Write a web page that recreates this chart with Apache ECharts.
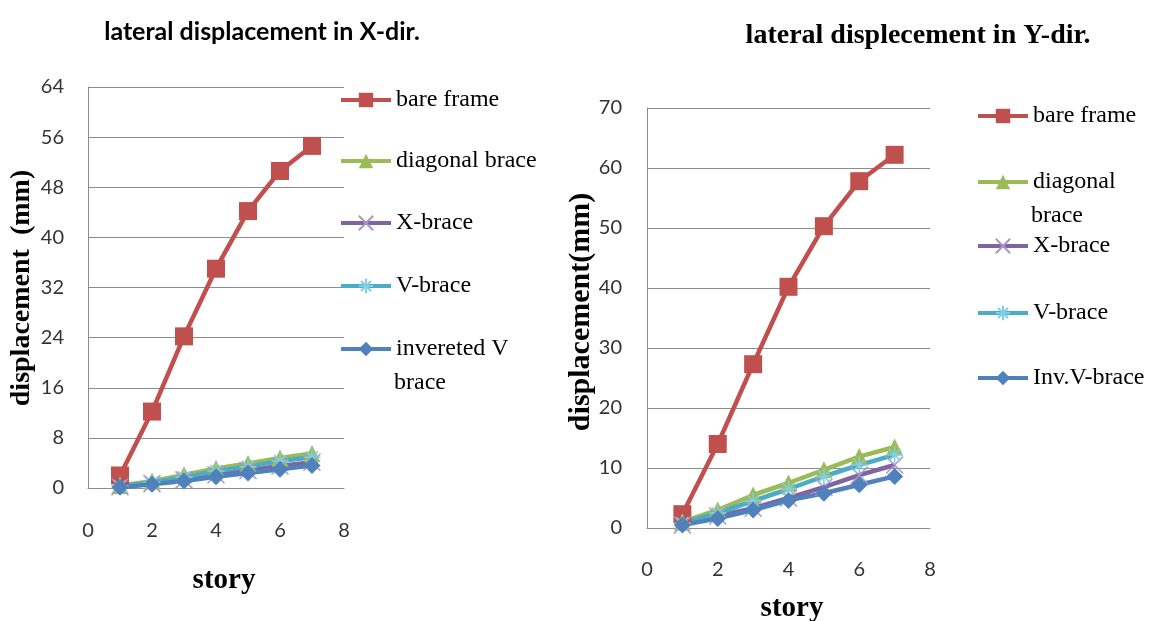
<!DOCTYPE html>
<html>
<head>
<meta charset="utf-8">
<script src="https://cdn.jsdelivr.net/npm/echarts@6/dist/echarts.min.js"></script>
<style>
  html, body { margin: 0; padding: 0; background: #fff; }
  #main { width: 1167px; height: 621px; }
</style>
</head>
<body>
<div id="main"></div>
<script>
// story numbers (x values)
var stories = [1, 2, 3, 4, 5, 6, 7];

// lateral displacement in X-dir (mm)
var xBare = [2, 12.2, 24.2, 35, 44.2, 50.6, 54.6];
var xDiag = [0.4, 1.1, 2.1, 3.1, 3.9, 4.8, 5.5];
var xXbr  = [0.2, 0.7, 1.3, 2.1, 2.8, 3.5, 4.1];
var xVbr  = [0.3, 0.9, 1.7, 2.7, 3.4, 4.3, 4.9];
var xInv  = [0.1, 0.6, 1.1, 1.8, 2.4, 3.0, 3.6];

// lateral displacement in Y-dir (mm)
var yBare = [2.3, 14, 27.3, 40.2, 50.3, 57.8, 62.2];
var yDiag = [1, 3, 5.5, 7.5, 9.7, 11.9, 13.5];
var yXbr  = [0.5, 2, 3.3, 5, 6.8, 8.8, 10.5];
var yVbr  = [0.8, 2.5, 4.5, 6.5, 8.6, 10.5, 12.2];
var yInv  = [0.5, 1.6, 3, 4.6, 5.8, 7.2, 8.6];

var namesX = ['bare frame', 'diagonal brace', 'X-brace', 'V-brace', 'invereted V brace'];
var namesY = ['bare frame ', 'diagonal brace ', 'X-brace ', 'V-brace ', 'Inv.V-brace'];

var colors = ['#C0504D', '#9BBB59', '#8064A2', '#4BACC6', '#4F81BD'];
var markColors = ['#C0504D', '#9BBB59', '#A796C8', '#7FD0E6', '#4F81BD'];
var symX = 'path://M0,0L10,10M10,0L0,10';
var symStar = 'path://M5,0L5,10M0,5L10,5M1.5,1.5L8.5,8.5M8.5,1.5L1.5,8.5';
var symbols = ['rect', 'triangle', symX, symStar, 'diamond'];
var symSizes = [18, 17, 17, 17, 17];

function pairs(ys) {
  var out = [];
  for (var i = 0; i < stories.length; i++) out.push([stories[i], ys[i]]);
  return out;
}

function mkSeries(name, ys, k, gi) {
  var stroke = (k === 2 || k === 3);
  return {
    name: name,
    type: 'line',
    xAxisIndex: gi,
    yAxisIndex: gi,
    data: pairs(ys),
    symbol: symbols[k],
    symbolSize: symSizes[k],
    showSymbol: true,
    animation: false,
    lineStyle: { color: colors[k], width: 4.5 },
    itemStyle: stroke
      ? { color: markColors[k], borderColor: markColors[k], borderWidth: 1.5 }
      : { color: markColors[k] }
  };
}

var series = [];
var xs = [xBare, xDiag, xXbr, xVbr, xInv];
var ysY = [yBare, yDiag, yXbr, yVbr, yInv];
for (var k = 0; k < 5; k++) series.push(mkSeries(namesX[k], xs[k], k, 0));
for (var k = 0; k < 5; k++) series.push(mkSeries(namesY[k], ysY[k], k, 1));

var legTxt = { fontFamily: 'Liberation Serif', fontSize: 24, color: '#000' };
var legendsX = [99, 160, 222, 285, 348];
var legendsY = [115, 181, 245, 312, 377];
var legends = [];
for (var k = 0; k < 5; k++) {
  legends.push({
    data: [namesX[k]], left: 339, top: legendsX[k] - 11, padding: 0, itemWidth: 50, itemHeight: 18, itemGap: 0,
    textStyle: legTxt, selectedMode: false, lineStyle: { width: 4 },
    formatter: function (n) { return n === 'invereted V brace' ? 'invereted V' : n; }
  });
  legends.push({
    data: [namesY[k]], left: 976, top: legendsY[k] - 11, padding: 0, itemWidth: 50, itemHeight: 18, itemGap: 0,
    textStyle: legTxt, selectedMode: false, lineStyle: { width: 4 },
    formatter: function (n) { return n === 'diagonal brace ' ? 'diagonal' : n.trim(); }
  });
}

var tickFont = { fontFamily: 'Lato', fontSize: 20, color: '#333' };
var gridLine = { show: true, lineStyle: { color: '#8c8c8c', width: 1 } };

var option = {
  backgroundColor: '#fff',
  animation: false,
  title: [
    { text: 'lateral displacement in X-dir.', left: 257, top: 14, textAlign: 'center',
      textStyle: { fontFamily: 'Lato', fontWeight: 'bold', fontSize: 25, color: '#000' } },
    { text: 'lateral displecement in Y-dir.', left: 913, top: 17, textAlign: 'center',
      textStyle: { fontFamily: 'Liberation Serif', fontWeight: 'bold', fontSize: 28, color: '#000' } },
    { text: 'story', left: 219, top: 561, textAlign: 'center',
      textStyle: { fontFamily: 'Liberation Serif', fontWeight: 'bold', fontSize: 29, color: '#000' } },
    { text: 'story', left: 787, top: 589, textAlign: 'center',
      textStyle: { fontFamily: 'Liberation Serif', fontWeight: 'bold', fontSize: 29, color: '#000' } }
  ],
  legend: legends,
  graphic: [
    { type: 'text', left: 394, top: 371,
      style: { text: 'brace', font: '24px "Liberation Serif"', fill: '#000' } },
    { type: 'text', left: 1031, top: 204,
      style: { text: 'brace', font: '24px "Liberation Serif"', fill: '#000' } },
    { type: 'text', x: 22, y: 288, rotation: Math.PI / 2,
      style: { text: 'displacement  (mm)', font: 'bold 28px "Liberation Serif"', fill: '#000',
               align: 'center', verticalAlign: 'middle' } },
    { type: 'text', x: 581, y: 312, rotation: Math.PI / 2,
      style: { text: 'displacement(mm)', font: 'bold 30px "Liberation Serif"', fill: '#000',
               align: 'center', verticalAlign: 'middle' } }
  ],
  grid: [
    { left: 88, top: 87, width: 256, height: 401 },
    { left: 647, top: 108, width: 283, height: 420 }
  ],
  xAxis: [
    { type: 'value', gridIndex: 0, min: 0, max: 8, interval: 2,
      axisLine: { show: true, onZero: false, lineStyle: { color: '#8c8c8c' } },
      axisTick: { show: false }, splitLine: { show: false },
      axisLabel: Object.assign({ margin: 33 }, tickFont) },
    { type: 'value', gridIndex: 1, min: 0, max: 8, interval: 2,
      axisLine: { show: true, onZero: false, lineStyle: { color: '#8c8c8c' } },
      axisTick: { show: false }, splitLine: { show: false },
      axisLabel: Object.assign({ margin: 32 }, tickFont) }
  ],
  yAxis: [
    { type: 'value', gridIndex: 0, min: 0, max: 64, interval: 8,
      axisLine: { show: true, lineStyle: { color: '#8c8c8c' } },
      axisTick: { show: false }, splitLine: gridLine,
      axisLabel: Object.assign({ margin: 24 }, tickFont) },
    { type: 'value', gridIndex: 1, min: 0, max: 70, interval: 10,
      axisLine: { show: true, lineStyle: { color: '#8c8c8c' } },
      axisTick: { show: false }, splitLine: gridLine,
      axisLabel: Object.assign({ margin: 25 }, tickFont) }
  ],
  series: series
};

var chart = echarts.init(document.getElementById('main'));
chart.setOption(option);
</script>
</body>
</html>
